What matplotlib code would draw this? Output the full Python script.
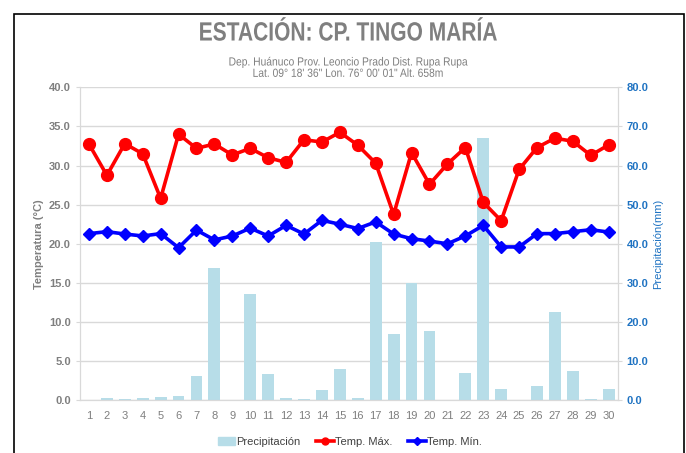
import matplotlib
matplotlib.use("Agg")
import matplotlib.pyplot as plt
from matplotlib.lines import Line2D
from matplotlib.patches import Patch, Rectangle
from matplotlib.patheffects import AbstractPathEffect
from matplotlib.transforms import Affine2D

days = list(range(1, 31))
precip_mm = [0.0, 0.5, 0.3, 0.6, 0.9, 1.2, 6.3, 33.9, 0.0, 27.2,
             6.8, 0.5, 0.3, 2.7, 8.0, 0.7, 40.5, 17.0, 30.1, 17.6,
             0.0, 7.0, 67.0, 2.9, 0.0, 3.7, 22.6, 7.4, 0.3, 2.9]
t_max = [32.75, 28.75, 32.8, 31.5, 25.8, 34.0, 32.2, 32.75, 31.35, 32.2,
         31.0, 30.4, 33.3, 33.0, 34.25, 32.6, 30.3, 23.75, 31.65, 27.6,
         30.2, 32.3, 25.3, 22.95, 29.5, 32.3, 33.5, 33.1, 31.3, 32.65]
t_min = [21.3, 21.55, 21.25, 21.0, 21.3, 19.5, 21.75, 20.5, 21.0, 22.0,
         21.0, 22.35, 21.25, 23.0, 22.5, 21.95, 22.8, 21.25, 20.65, 20.35,
         20.0, 21.0, 22.35, 19.6, 19.6, 21.3, 21.3, 21.55, 21.8, 21.5]

GRAY = "#7f7f7f"
BLUE_TXT = "#1f73c2"
BAR = "#b7dde8"

plt.rcParams["font.family"] = ["Liberation Sans", "DejaVu Sans"]


class Narrow(AbstractPathEffect):
    """squeeze text horizontally around a fixed x (no condensed font installed)"""

    def __init__(self, cx, sx):
        super().__init__()
        self.cx, self.sx = cx, sx

    def draw_path(self, renderer, gc, tpath, affine, rgbFace=None):
        sq = Affine2D().translate(-self.cx, 0).scale(self.sx, 1).translate(self.cx, 0)
        renderer.draw_path(gc, tpath, affine + sq, rgbFace)


fig = plt.figure(figsize=(6.86, 4.53), dpi=100)
ax2 = fig.add_axes([0.1166, 0.1163, 0.7838, 0.691])
ax1 = ax2.twinx()
# temperature axis on the left, precipitation on the right
ax1.yaxis.set_label_position("left")
ax1.yaxis.tick_left()
ax2.yaxis.set_label_position("right")
ax2.yaxis.tick_right()
ax1.set_zorder(ax2.get_zorder() + 1)
ax1.patch.set_visible(False)

ax2.bar(days, precip_mm, width=0.66, color=BAR, zorder=2)
ax2.set_ylim(0, 80)
ax2.set_yticks(range(0, 81, 10))
ax2.set_yticklabels([f"{v:.1f}" for v in range(0, 81, 10)])
ax2.grid(axis="y", color="#d9d9d9", lw=1)
ax2.set_axisbelow(True)
ax2.set_ylabel("Precipitación(mm)", color=BLUE_TXT, fontsize=8, labelpad=3)
ax2.tick_params(axis="y", colors="#d9d9d9", labelcolor=BLUE_TXT, labelsize=8, length=3)
for lab in ax2.get_yticklabels():
    lab.set_fontweight("bold")

ax1.plot(days, t_max, color="#ff0000", lw=2.6, marker="o", ms=8.5, zorder=4)
ax1.plot(days, t_min, color="#0000ff", lw=2.6, marker="D", ms=6.5, zorder=4)
ax1.set_ylim(0, 40)
ax1.set_yticks(range(0, 41, 5))
ax1.set_yticklabels([f"{v:.1f}" for v in range(0, 41, 5)])
ax1.set_ylabel("Temperatura (°C)", color=GRAY, fontsize=8, fontweight="bold", labelpad=4)
ax1.tick_params(axis="y", colors="#d9d9d9", labelcolor=GRAY, labelsize=8, length=3)
for lab in ax1.get_yticklabels():
    lab.set_fontweight("bold")

ax2.set_xlim(0.5, 30.5)
ax2.set_xticks(days)
ax2.tick_params(axis="x", length=0, labelcolor=GRAY, labelsize=8, pad=8)
for a in (ax1, ax2):
    for s in a.spines.values():
        s.set_color("#d9d9d9")
    a.spines["top"].set_visible(False)

cx = 0.507 * 686
fig.text(0.507, 0.926, "ESTACIÓN: CP. TINGO MARÍA", ha="center", va="center",
         fontsize=19, fontweight="bold", color=GRAY,
         path_effects=[Narrow(cx, 0.795)])
fig.text(0.507, 0.862, "Dep. Huánuco Prov. Leoncio Prado Dist. Rupa Rupa",
         ha="center", va="center", fontsize=8.5, color=GRAY,
         path_effects=[Narrow(cx, 0.87)])
fig.text(0.507, 0.837, "Lat. 09° 18' 36\" Lon. 76° 00' 01\" Alt. 658m",
         ha="center", va="center", fontsize=8.5, color=GRAY,
         path_effects=[Narrow(cx, 0.87)])

handles = [Patch(color=BAR),
           Line2D([], [], color="#ff0000", lw=2.6, marker="o", ms=5),
           Line2D([], [], color="#0000ff", lw=2.6, marker="D", ms=4)]
fig.legend(handles, ["Precipitación", "Temp. Máx.", "Temp. Mín."],
           loc="center", bbox_to_anchor=(0.51, 0.025), ncol=3, frameon=False,
           fontsize=8, handlelength=1.6, handletextpad=0.1, columnspacing=1.4,
           labelcolor="#404040")

fig.patches.append(Rectangle((14 / 686, -0.05), 670 / 686, 1.0 - 14 / 453 + 0.05,
                             transform=fig.transFigure, fill=False,
                             edgecolor="black", lw=1.2))

fig.savefig("out.png", dpi=100)
